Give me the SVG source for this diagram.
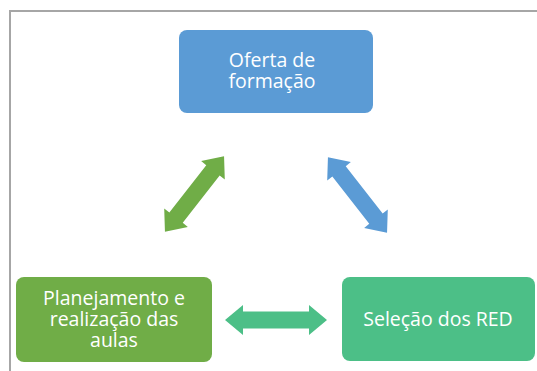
<svg xmlns="http://www.w3.org/2000/svg" width="537" height="371" viewBox="0 0 537 371">
<style>
.t{font-family:"Open Sans","Noto Sans","Liberation Sans",sans-serif;font-size:19.5px;fill:#fff;text-anchor:middle}
.frame{stroke:#a6a6a6;stroke-width:2;fill:none}
</style>
<defs>
<path id="dbl" d="M-48,0 L-30,-15 L-30,-8.5 L30,-8.5 L30,-15 L48,0 L30,15 L30,8.5 L-30,8.5 L-30,15 Z"/>
</defs>
<rect width="537" height="371" fill="#fff"/>
<path class="frame" d="M10,371 L10,11 L537,11"/>
<g id="connectors">
<use href="#dbl" fill="#70ad47" transform="translate(194.5,194) rotate(-52)"/>
<use href="#dbl" fill="#5b9bd5" transform="translate(357.5,195) rotate(52)"/>
<path d="M225,320 L243,305 L243,311.5 L309,311.5 L309,305 L327,320 L309,335 L309,328.5 L243,328.5 L243,335 Z" fill="#4cbf87"/>
</g>
<g id="oferta">
<rect x="179" y="30" width="194" height="83" rx="8" fill="#5b9bd5"/>
<text class="t" x="272" y="67">Oferta de</text>
<text class="t" x="272" y="88">formação</text>
</g>
<g id="planejamento">
<rect x="16" y="277" width="196" height="85" rx="8" fill="#70ad47"/>
<text class="t" x="114" y="305">Planejamento e</text>
<text class="t" x="114" y="326">realização das</text>
<text class="t" x="114" y="347">aulas</text>
</g>
<g id="selecao">
<rect x="342" y="277" width="193" height="84" rx="8" fill="#4cbf87"/>
<text class="t" x="438" y="326">Seleção dos RED</text>
</g>
</svg>
